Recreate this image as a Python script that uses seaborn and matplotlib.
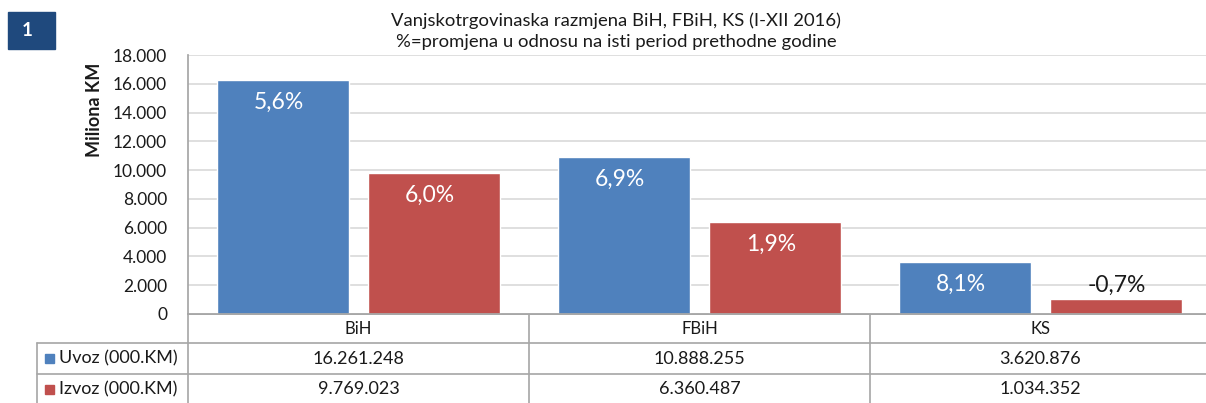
import matplotlib
matplotlib.use("Agg")
import matplotlib.pyplot as plt
from matplotlib.patches import Rectangle
import numpy as np
import pandas as pd
import seaborn as sns


REGIONS = ["BiH", "FBiH", "KS"]
UVOZ = [16261248, 10888255, 3620876]      # 000 KM
IZVOZ = [9769023, 6360487, 1034352]       # 000 KM
UVOZ_PCT = ["5,6%", "6,9%", "8,1%"]
IZVOZ_PCT = ["6,0%", "1,9%", "-0,7%"]
SERIES = ["Uvoz (000.KM)", "Izvoz (000.KM)"]
Y_TICKS = [0, 2000, 4000, 6000, 8000, 10000, 12000, 14000, 16000, 18000]

TITLE = "Vanjskotrgovinaska razmjena BiH, FBiH, KS (I-XII 2016)\n%=promjena u odnosu na isti period prethodne godine"

BLUE = "#4F81BD"
RED = "#C0504D"
GRID = "#D9D9D9"
LINE = "#A6A6A6"
TXT = "#1A1A1A"


def thousands(v):
    return f"{v:,}".replace(",", ".")


def main() -> None:
    sns.set_theme(style="white")
    plt.rcParams["font.family"] = ["Lato", "DejaVu Sans"]

    df = pd.DataFrame({
        "Region": REGIONS * 2,
        "Serija": [SERIES[0]] * 3 + [SERIES[1]] * 3,
        "Vrijednost": [v / 1000 for v in UVOZ + IZVOZ],
    })

    W, H = 1206, 403
    fig = plt.figure(figsize=(W / 100, H / 100), dpi=100)

    # chart area in pixel terms: left 188, top 55, zero line 314, category width ~341
    ax = fig.add_axes([188 / W, (H - 314) / H, 1023 / W, (314 - 55) / H])
    sns.barplot(
        data=df, x="Region", y="Vrijednost", hue="Serija",
        order=REGIONS, hue_order=SERIES, palette=[BLUE, RED],
        width=0.89, gap=0.13, saturation=1, legend=False, ax=ax,
    )
    ax.set_xlim(-0.5, 2.5)
    ax.set_ylim(0, 18000)
    ax.set_yticks(Y_TICKS)
    ax.set_yticklabels([thousands(t) for t in Y_TICKS], fontsize=12.5, color=TXT)
    ax.tick_params(axis="y", length=0, pad=15)
    ax.set_xticks([])
    ax.set_xlabel("")
    ax.set_ylabel("")
    ax.yaxis.grid(True, color=GRID, linewidth=1.2)
    ax.set_axisbelow(True)
    for side in ["top", "right"]:
        ax.spines[side].set_visible(False)
    ax.spines["left"].set_color(LINE)
    ax.spines["bottom"].set_color(LINE)

    # percentage labels
    for container, labels in zip(ax.containers, [UVOZ_PCT, IZVOZ_PCT]):
        for bar, lab in zip(container.patches, labels):
            xc = bar.get_x() + bar.get_width() / 2
            h = bar.get_height()
            if h > 2500:
                ax.annotate(lab, (xc, h), xytext=(-3, -16), textcoords="offset points",
                            ha="center", va="center", color="white", fontsize=16.5)
            else:
                ax.annotate(lab, (xc, h), xytext=(0, 10), textcoords="offset points",
                            ha="center", va="center", color=TXT, fontsize=16.5)

    # data table below the chart, drawn on a pixel overlay
    tab = fig.add_axes([0, 0, 1, 1], zorder=-1)
    tab.set_xlim(0, W)
    tab.set_ylim(H, 0)
    tab.axis("off")

    fig.canvas.draw()
    to_px = lambda xv: ax.transData.transform((xv, 0))[0]
    edges = [to_px(i - 0.5) for i in range(len(REGIONS) + 1)]
    centers = [to_px(i) for i in range(len(REGIONS))]

    for xe in edges:
        tab.plot([xe, xe], [314, 410], color=LINE, lw=1.2)
    tab.plot([37, 37], [343, 410], color=LINE, lw=1.2)
    tab.plot([edges[0], W], [314, 314], color=LINE, lw=1.2)
    for yy in [343, 374]:
        tab.plot([37, W], [yy, yy], color=LINE, lw=1.2)

    for name, xc in zip(REGIONS, centers):
        tab.text(xc, 329, name, ha="center", va="center", fontsize=12, color=TXT)
    for vals, yy in zip([UVOZ, IZVOZ], [358.5, 389]):
        for v, xc in zip(vals, centers):
            tab.text(xc, yy, thousands(v), ha="center", va="center", fontsize=13, color=TXT)
    for name, col, yy in zip(SERIES, [BLUE, RED], [358.5, 389]):
        tab.add_patch(Rectangle((45, yy - 4.5), 9, 9, color=col))
        tab.text(59, yy, name, ha="left", va="center", fontsize=13, color=TXT)

    # badge
    tab.add_patch(Rectangle((8, 12), 47, 37, color="#1F497D"))
    tab.text(27, 31, "1", ha="center", va="center", color="white", fontsize=13.5, fontweight="bold")

    fig.text(616 / W, 1 - 31 / H, TITLE, ha="center", va="center", fontsize=13.3,
             color=TXT, linespacing=1.35)
    fig.text(95 / W, 1 - 110 / H, "Miliona KM", rotation=90, ha="center", va="center",
             fontsize=13, fontweight="bold", color=TXT)

    fig.savefig("out.png", dpi=100)
    plt.close(fig)


if __name__ == "__main__":
    main()
